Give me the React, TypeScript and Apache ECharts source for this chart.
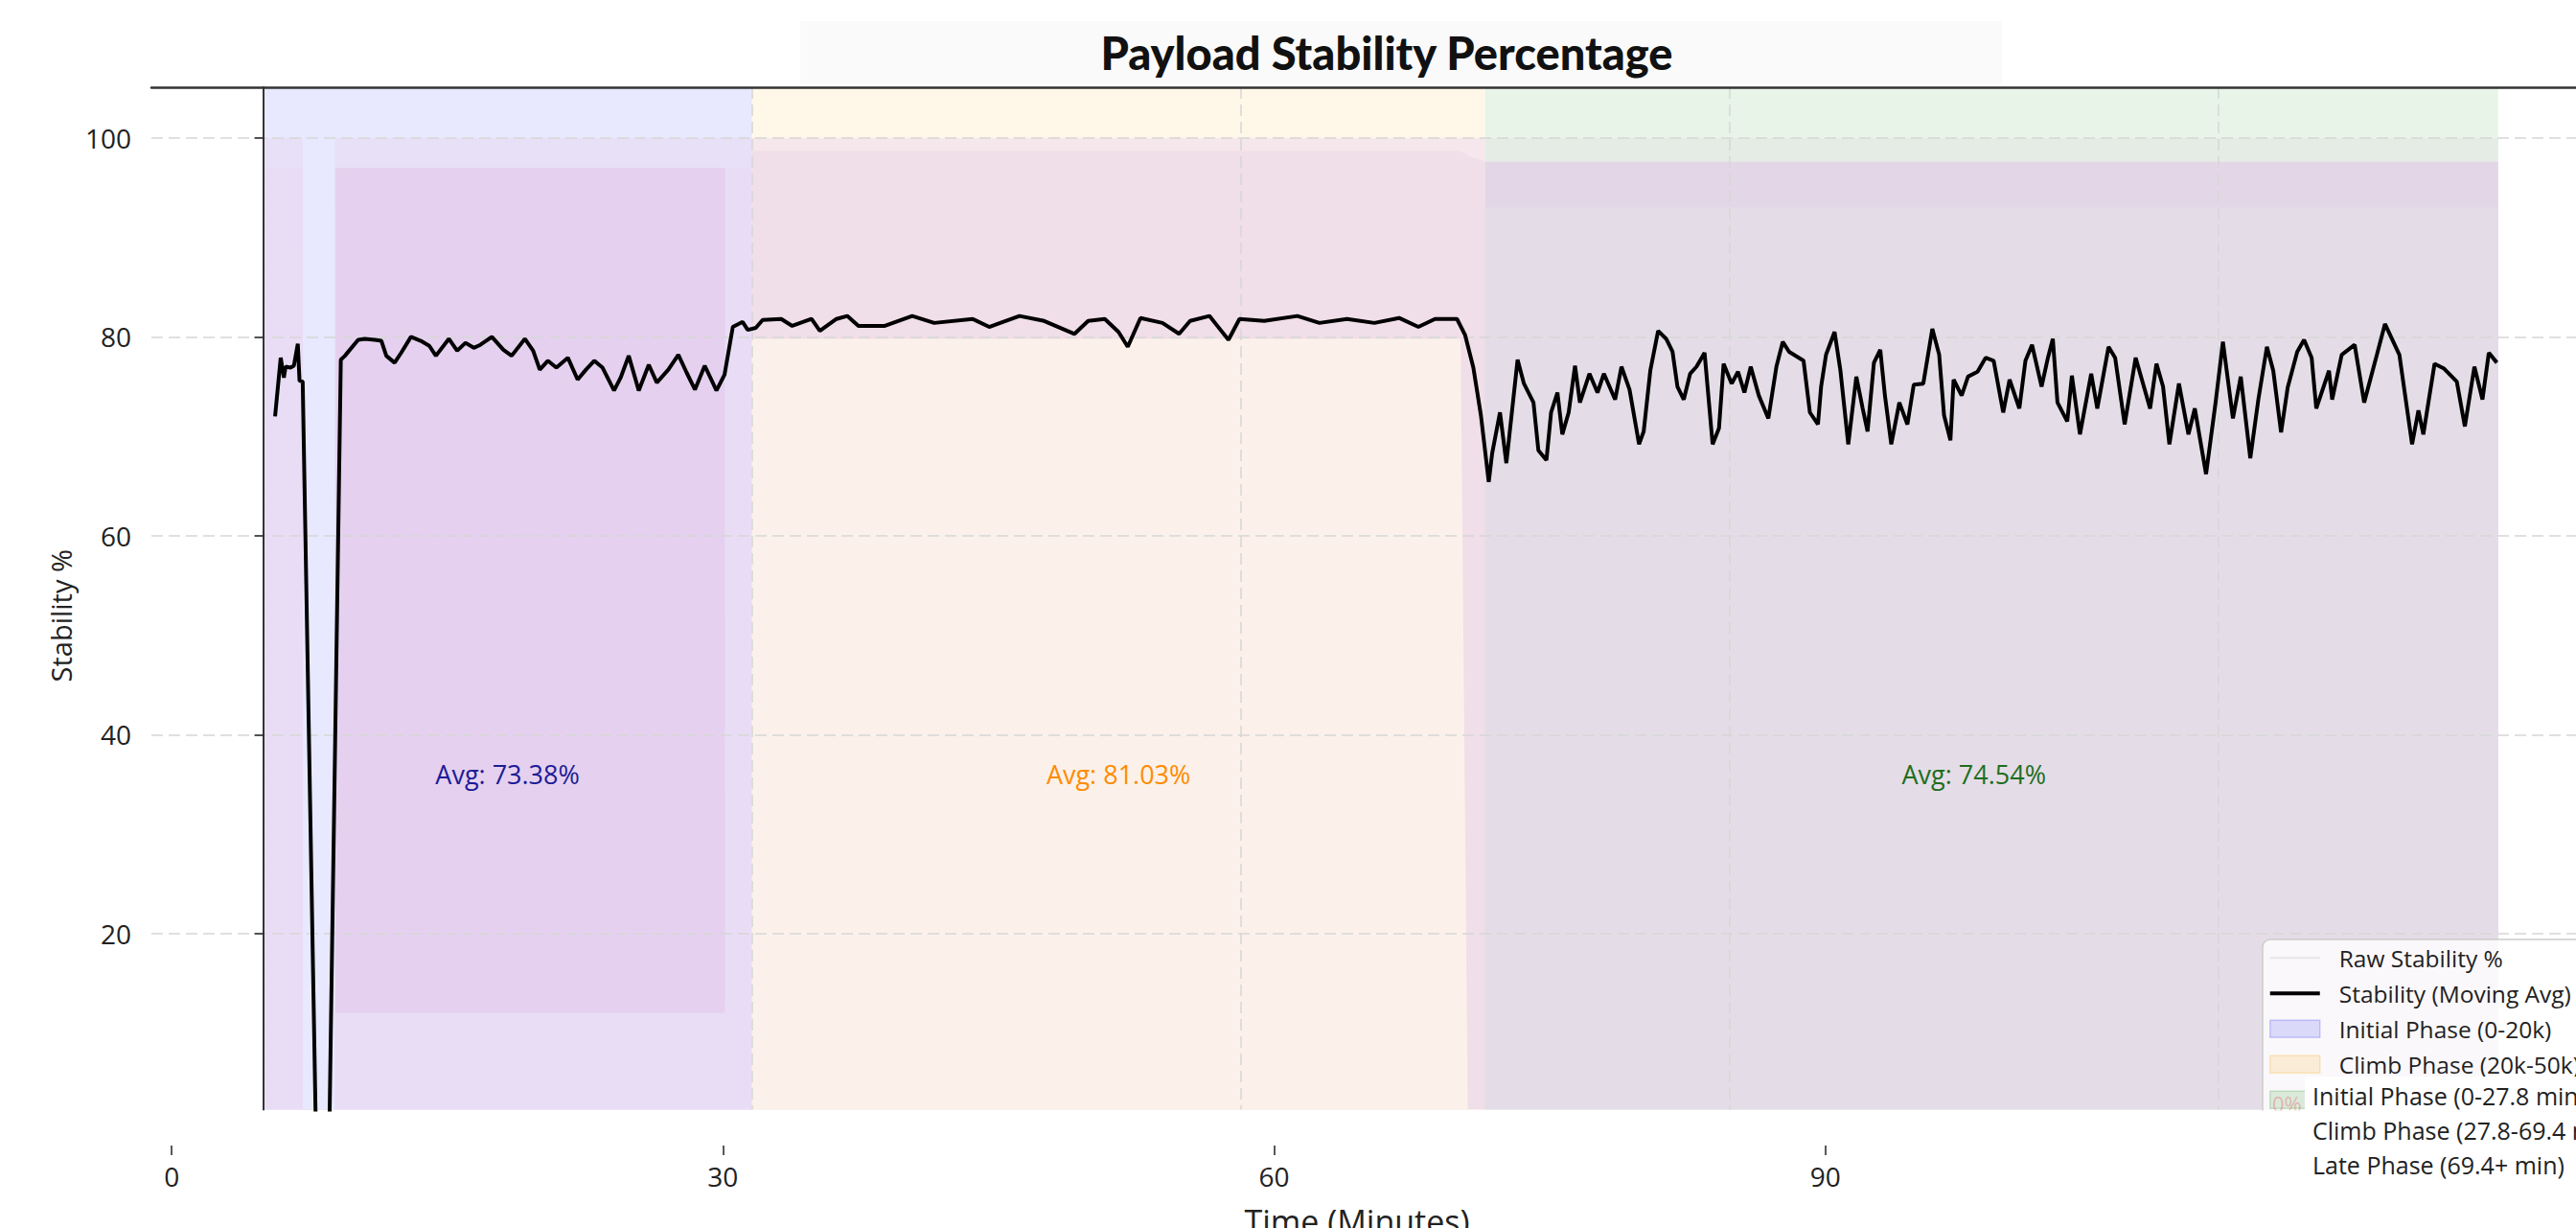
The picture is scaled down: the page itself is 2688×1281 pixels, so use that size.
import React, { useEffect, useRef } from 'react';
import * as echarts from 'echarts';

// ---------- data (x = sample index in thousands, y = stability %) ----------
const movingAvg: [number, number][] = [
  [0.49, 72.0], [0.72, 77.9], [0.85, 75.9], [0.92, 77.0], [1.12, 76.9], [1.26, 77.1], [1.42, 79.3], [1.49, 75.6],
  [1.62, 75.5], [2.16, 0], [2.71, 0], [3.18, 77.7], [3.35, 78.1], [3.55, 78.7], [3.89, 79.7], [4.16, 79.8],
  [4.57, 79.7], [4.84, 79.6], [5.04, 78.1], [5.38, 77.4], [5.65, 78.4], [6.05, 80.0], [6.45, 79.6], [6.8, 79.1],
  [7.07, 78.1], [7.6, 79.8], [7.94, 78.6], [8.28, 79.4], [8.62, 78.9], [8.89, 79.2], [9.36, 80.0], [9.83, 78.7],
  [10.17, 78.1], [10.71, 79.8], [11.05, 78.6], [11.32, 76.7], [11.65, 77.6], [12.0, 76.9], [12.47, 77.9],
  [12.87, 75.7], [13.21, 76.7], [13.55, 77.6], [13.89, 76.9], [14.36, 74.6], [14.63, 75.9], [14.96, 78.1],
  [15.37, 74.6], [15.78, 77.2], [16.11, 75.4], [16.58, 76.7], [16.99, 78.2], [17.33, 76.4], [17.67, 74.7],
  [18.07, 77.1], [18.55, 74.6], [18.88, 76.2], [19.22, 81.0], [19.62, 81.5], [19.83, 80.7], [20.16, 80.9],
  [20.44, 81.7], [21.2, 81.8], [21.65, 81.1], [22.44, 81.8], [22.78, 80.6], [23.46, 81.8], [23.9, 82.1],
  [24.36, 81.1], [25.44, 81.1], [26.56, 82.1], [27.46, 81.4], [29.03, 81.8], [29.71, 81.0], [30.16, 81.4],
  [30.95, 82.1], [31.96, 81.6], [33.2, 80.3], [33.76, 81.6], [34.44, 81.8], [35.0, 80.5], [35.38, 79.0],
  [35.9, 81.9], [36.8, 81.4], [37.48, 80.3], [37.93, 81.6], [38.72, 82.1], [39.5, 79.7], [39.95, 81.8],
  [40.96, 81.6], [42.32, 82.1], [43.22, 81.4], [44.35, 81.8], [45.47, 81.4], [46.48, 81.9], [47.27, 81.0],
  [47.95, 81.8], [48.85, 81.8], [49.18, 80.2], [49.52, 76.9], [49.83, 72.1], [50.15, 65.4], [50.29, 68.3],
  [50.61, 72.4], [50.87, 67.3], [51.33, 77.7], [51.59, 75.3], [51.98, 73.4], [52.18, 68.6], [52.51, 67.6],
  [52.7, 72.4], [52.96, 74.4], [53.16, 70.2], [53.42, 72.4], [53.68, 77.1], [53.88, 73.4], [54.27, 76.3],
  [54.6, 74.4], [54.86, 76.3], [55.32, 73.7], [55.58, 77.0], [55.91, 74.7], [56.3, 69.2], [56.49, 70.5],
  [56.76, 76.6], [57.08, 80.6], [57.41, 79.8], [57.67, 78.5], [57.87, 75.0], [58.13, 73.7], [58.39, 76.3],
  [58.65, 77.0], [58.98, 78.4], [59.31, 69.2], [59.57, 70.8], [59.76, 77.3], [60.09, 75.3], [60.35, 76.5],
  [60.61, 74.4], [60.87, 77.0], [61.2, 74.1], [61.59, 71.8], [61.92, 77.0], [62.18, 79.5], [62.44, 78.5],
  [63.03, 77.6], [63.29, 72.4], [63.62, 71.2], [63.75, 75.0], [63.95, 78.2], [64.3, 80.5], [64.54, 76.6],
  [64.86, 69.2], [65.19, 76.0], [65.45, 72.8], [65.65, 70.5], [65.91, 77.4], [66.17, 78.7], [66.36, 74.1],
  [66.62, 69.2], [66.95, 73.4], [67.28, 71.2], [67.54, 75.2], [67.93, 75.3], [68.3, 80.8], [68.58, 78.2],
  [68.78, 72.1], [69.04, 69.6], [69.17, 75.7], [69.5, 74.1], [69.76, 76.0], [70.15, 76.5], [70.48, 77.9],
  [70.81, 77.6], [71.2, 72.4], [71.46, 75.7], [71.86, 72.8], [72.11, 77.6], [72.38, 79.2], [72.77, 75.0],
  [73.03, 77.9], [73.23, 79.8], [73.42, 73.4], [73.82, 71.5], [74.01, 76.1], [74.34, 70.2], [74.8, 76.3],
  [75.05, 72.8], [75.51, 79.0], [75.78, 77.9], [76.17, 71.2], [76.62, 77.9], [77.21, 72.8], [77.47, 77.3],
  [77.74, 75.0], [78.0, 69.2], [78.39, 75.3], [78.78, 70.2], [79.04, 72.8], [79.5, 66.2], [79.89, 73.4],
  [80.19, 79.5], [80.6, 71.8], [80.92, 76.0], [81.31, 67.8], [81.64, 73.7], [81.99, 79.0], [82.25, 76.6],
  [82.57, 70.4], [82.84, 74.9], [83.23, 78.5], [83.51, 79.7], [83.82, 77.9], [84.01, 72.8], [84.53, 76.6],
  [84.66, 73.7], [85.05, 78.2], [85.58, 79.2], [85.97, 73.4], [86.49, 78.2], [86.82, 81.3], [87.41, 78.2],
  [87.93, 69.2], [88.19, 72.6], [88.39, 70.2], [88.85, 77.3], [89.24, 76.8], [89.76, 75.5], [90.09, 71.0],
  [90.48, 77.0], [90.81, 73.7], [91.07, 78.4], [91.4, 77.4],
];

// Raw stability envelope per phase: x, highest spikes, top of dense band, bottom of dense band
const initRawK = [0, 1.62, 1.621, 2.95, 2.951, 18.9, 18.901, 20];
const initRawPeak = [100, 100, 0, 0, 100, 100, 100, 100];
const initRawTop = [97, 97, 0, 0, 97, 97, 97, 97];
const initRawFloor = [97, 97, 0, 0, 12, 12, 97, 97];

const climbRawK = [20, 49.0, 49.3, 50];
const climbRawPeak = [100, 100, 100, 100];
const climbRawTop = [98.7, 98.7, 98.2, 97.6];
const climbRawFloor = [79.8, 79.8, 0, 0];

const lateRawK = [50, 91.45];
const lateRawPeak = [100, 100];
const lateRawTop = [97.6, 97.6];
const lateRawFloor = [93, 93];

const phaseNames = ['Initial Phase (0-20k)', 'Climb Phase (20k-50k)', 'Late Phase (50k+)'];
const phaseStart = [0, 20, 50];
const phaseEnd = [20, 50, 91.45];
const phaseAvgText = ['Avg: 73.38%', 'Avg: 81.03%', 'Avg: 74.54%'];
const phaseAvgX = [10, 35, 70];
const phaseAvgY = [36, 36, 36];

const minuteLegend = ['Initial Phase (0-27.8 min)', 'Climb Phase (27.8-69.4 min)', 'Late Phase (69.4+ min)'];
const timeTicks = [0, 30, 60, 90, 120];
const stabilityTicks = [20, 40, 60, 80, 100];
const sampleGridTicks = [0, 20, 40, 60, 80];

// ---------- styles ----------
const FONT = '"Open Sans", "Noto Sans", sans-serif';
const phaseFill = ['rgba(0,0,255,0.09)', 'rgba(255,165,0,0.09)', 'rgba(0,128,0,0.09)'];
const phaseIcon = ['rgba(0,0,255,0.12)', 'rgba(255,165,0,0.14)', 'rgba(0,128,0,0.12)'];
const phaseIconBorder = ['rgba(0,0,255,0.18)', 'rgba(255,165,0,0.22)', 'rgba(0,128,0,0.18)'];
const avgColors = ['#1c1c96', '#ff8c00', '#1e6e1e'];
const rawColors = {
  init: ['#e7e0f7', '#e5d1ef', '#e9ddf6'],
  climb: ['#f6e7ec', '#f0dee8', '#fbf1ea'],
  late: ['#e5ece6', '#e3d6e6', '#e4dde7'],
};

function rawSeries(ks: number[], peak: number[], top: number[], floor: number[], colors: string[]) {
  const mk = (vals: number[], color: string) => ({
    type: 'line',
    name: 'Raw Stability %',
    xAxisIndex: 0,
    yAxisIndex: 0,
    data: ks.map((k, i) => [k, vals[i]]),
    symbol: 'none',
    showSymbol: false,
    lineStyle: { opacity: 0, width: 0 },
    itemStyle: { color: '#e6e2e8' },
    areaStyle: { color, opacity: 1, origin: 'start' },
    silent: true,
    z: 2,
    emphasis: { disabled: true },
  });
  return [mk(peak, colors[0]), mk(top, colors[1]), mk(floor, colors[2])];
}

export default function App() {
  const ref = useRef<HTMLDivElement>(null);
  useEffect(() => {
    if (!ref.current) return;
    const chart = echarts.init(ref.current, null, { renderer: 'svg' });

    const phaseSeries = phaseNames.map((name, i) => ({
      type: 'line',
      name,
      xAxisIndex: 0,
      yAxisIndex: 0,
      data: [],
      itemStyle: { color: phaseIcon[i] },
      markArea: {
        silent: true,
        itemStyle: { color: phaseFill[i] },
        data: [[{ xAxis: phaseStart[i] }, { xAxis: phaseEnd[i] }]],
      },
    }));

    const option: any = {
      animation: false,
      textStyle: { fontFamily: FONT },
      grid: { left: 158, right: -34, top: 91, bottom: 123.5, containLabel: false, outerBoundsMode: 'none' },
      xAxis: [
        {
          type: 'value',
          min: -4.57,
          max: 95.97,
          position: 'top',
          z: 3,
          axisLine: { show: true, lineStyle: { color: '#333', width: 2.5 } },
          axisTick: { show: false, customValues: sampleGridTicks },
          axisLabel: { show: false },
          splitLine: { show: true, lineStyle: { color: '#d6d6d6', type: [12, 6], width: 1.5 } },
        },
        {
          type: 'value',
          min: -1.106,
          max: 132.63,
          position: 'bottom',
          offset: 37.5,
          z: 3,
          axisLine: { show: false },
          axisTick: { show: true, length: 10, customValues: timeTicks, lineStyle: { color: '#222', width: 1.5 } },
          axisLabel: { show: true, customValues: timeTicks, margin: 18, fontSize: 28, color: '#222', fontFamily: FONT },
          splitLine: { show: false },
          name: 'Time (Minutes)',
          nameLocation: 'middle',
          nameGap: 62,
          nameTextStyle: { fontSize: 34, color: '#222', fontFamily: FONT, padding: [0, 48, 0, 0] },
        },
      ],
      yAxis: {
        type: 'value',
        min: 2.3,
        max: 105.1,
        z: 3,
        axisLine: { show: true, lineStyle: { color: '#222', width: 1.8 } },
        axisTick: { show: true, length: 9, customValues: stabilityTicks, lineStyle: { color: '#222', width: 1.5 } },
        axisLabel: { show: true, customValues: stabilityTicks, margin: 21, fontSize: 28, color: '#222', fontFamily: FONT },
        splitLine: { show: true, lineStyle: { color: '#d6d6d6', type: [12, 6], width: 1.5 } },
        name: 'Stability %',
        nameLocation: 'middle',
        nameGap: 78,
        nameTextStyle: { fontSize: 29, color: '#222', fontFamily: FONT, padding: [0, 36, 0, 0] },
      },
      legend: {
        orient: 'vertical',
        left: 2361,
        top: 980,
        z: 8,
        selectedMode: false,
        itemWidth: 52,
        itemHeight: 18,
        itemGap: 12,
        padding: [6.75, 10, 10, 7],
        backgroundColor: 'rgba(255,255,255,0.8)',
        borderColor: '#cccccc',
        borderWidth: 1.5,
        borderRadius: 8,
        textStyle: { fontFamily: FONT, fontSize: 24.5, color: '#222', padding: [0, 0, 0, 15] },
        data: [
          { name: 'Raw Stability %', icon: 'path://M0,0 L52,0 L52,2 L0,2 Z', itemStyle: { color: '#e8e4ea', borderWidth: 0 } },
          { name: 'Stability (Moving Avg)', icon: 'path://M0,0 L52,0 L52,4 L0,4 Z', itemStyle: { color: '#000', borderWidth: 0 } },
          ...phaseNames.map((name, i) => ({
            name,
            icon: 'rect',
            itemStyle: { color: phaseIcon[i], borderColor: phaseIconBorder[i], borderWidth: 1.5 },
          })),
        ],
      },
      series: [
        ...phaseSeries,
        ...rawSeries(initRawK, initRawPeak, initRawTop, initRawFloor, rawColors.init),
        ...rawSeries(climbRawK, climbRawPeak, climbRawTop, climbRawFloor, rawColors.climb),
        ...rawSeries(lateRawK, lateRawPeak, lateRawTop, lateRawFloor, rawColors.late),
        {
          type: 'line',
          name: 'Stability (Moving Avg)',
          xAxisIndex: 0,
          yAxisIndex: 0,
          data: movingAvg,
          symbol: 'none',
          showSymbol: false,
          clip: true,
          z: 5,
          lineStyle: { color: '#000', width: 4 },
          itemStyle: { color: '#000' },
          emphasis: { disabled: true },
        },
        {
          type: 'scatter',
          name: 'phase-avg',
          xAxisIndex: 0,
          yAxisIndex: 0,
          z: 6,
          silent: true,
          symbolSize: 0.1,
          itemStyle: { color: 'rgba(0,0,0,0)', opacity: 1 },
          data: phaseAvgX.map((x, i) => ({
            value: [x, phaseAvgY[i]],
            label: { color: avgColors[i] },
          })),
          label: {
            show: true,
            position: 'inside',
            fontSize: 27,
            opacity: 1,
            fontFamily: FONT,
            formatter: (p: any) => phaseAvgText[p.dataIndex],
          },
        },
      ],
      graphic: {
        elements: [
          { type: 'rect', silent: true, z: 0, shape: { x: 835, y: 22, width: 1254, height: 66 }, style: { fill: '#fafafa' } },
          {
            type: 'text', silent: true, z: 10, x: 1447, y: 55,
            style: { text: 'Payload Stability Percentage', fontFamily: 'Lato', fontWeight: 900, fontSize: 47, fill: '#111', align: 'center', verticalAlign: 'middle' },
          },
          {
            type: 'text', silent: true, z: 50, x: 2371, y: 1151,
            style: { text: '0%', fontFamily: FONT, fontSize: 22, fill: 'rgba(225,80,80,0.35)', align: 'left', verticalAlign: 'middle' },
          },
          { type: 'rect', silent: true, z: 100, shape: { x: 2338, y: 1158.5, width: 68, height: 130 }, style: { fill: '#ffffff' } },
          { type: 'rect', silent: true, z: 100, shape: { x: 2405, y: 1123, width: 300, height: 170 }, style: { fill: '#ffffff' } },
          ...minuteLegend.map((t, i) => ({
            type: 'text', silent: true, z: 101, x: 2413, y: 1143 + i * 36,
            style: { text: t, fontFamily: FONT, fontSize: 25, fill: '#222', align: 'left', verticalAlign: 'middle' },
          })),
        ],
      },
    };

    chart.setOption(option);
    return () => chart.dispose();
  }, []);

  return (
    <div
      ref={ref}
      style={{ position: 'fixed', left: 0, top: 0, width: '2688px', height: '1281px', background: '#ffffff' }}
    />
  );
}
